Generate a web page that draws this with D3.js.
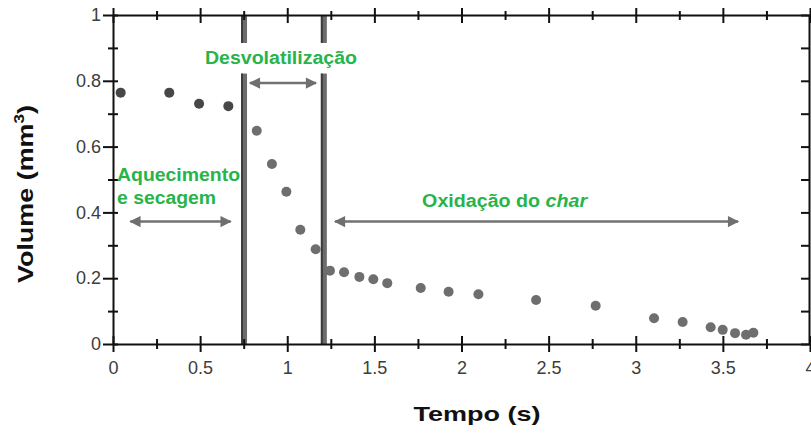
<!DOCTYPE html>
<html>
<head>
<meta charset="utf-8">
<script src="https://cdn.jsdelivr.net/npm/d3@7"></script>
<style>
  body { margin: 0; background: #fff; }
  svg { display: block; font-family: "Liberation Sans", Arial, sans-serif; }
</style>
</head>
<body>
<div id="chart"></div>
<script>
// volume of the particle over time
const tempo = [0.044, 0.323, 0.494, 0.662, 0.825, 0.912, 0.995, 1.075, 1.163, 1.245, 1.326,
  1.414, 1.494, 1.574, 1.766, 1.926, 2.097, 2.428, 2.770, 3.105, 3.269, 3.430, 3.499, 3.570,
  3.633, 3.675];
const volume = [0.764, 0.764, 0.730, 0.723, 0.648, 0.547, 0.463, 0.347, 0.288, 0.223, 0.218,
  0.204, 0.197, 0.185, 0.170, 0.159, 0.151, 0.134, 0.116, 0.078, 0.067, 0.051, 0.043, 0.033,
  0.028, 0.034];
// first points (drying) are drawn darker
const darkCount = 4;

const xTicks = [0, 0.25, 0.5, 0.75, 1, 1.25, 1.5, 1.75, 2, 2.25, 2.5, 2.75, 3, 3.25, 3.5, 3.75, 4];
const xLabels = ['0', '', '0.5', '', '1', '', '1.5', '', '2', '', '2.5', '', '3', '', '3.5', '', '4'];
const yTicks = [0, 0.1, 0.2, 0.3, 0.4, 0.5, 0.6, 0.7, 0.8, 0.9, 1];
const yLabels = ['0', '', '0.2', '', '0.4', '', '0.6', '', '0.8', '', '1'];

// phase boundaries and arrows
const boundaries = [0.752, 1.21];
const phaseArrows = [
  { x0: 0.10, x1: 0.675, y: 0.372 },
  { x0: 0.786, x1: 1.165, y: 0.793 },
  { x0: 1.274, x1: 3.587, y: 0.372 }
];

const width = 811, height = 434;
const margin = { top: 15, right: 1, bottom: 90, left: 113 };
const green = '#27b44b';

const svg = d3.select('#chart').append('svg')
  .attr('width', width)
  .attr('height', height);

const x = d3.scaleLinear().domain([0, 4]).range([margin.left, width - margin.right]);
const y = d3.scaleLinear().domain([0, 1]).range([height - margin.bottom, margin.top]);

const defs = svg.append('defs');
defs.append('marker')
  .attr('id', 'head')
  .attr('viewBox', '0 0 10 10')
  .attr('refX', 9).attr('refY', 5)
  .attr('markerWidth', 6).attr('markerHeight', 4.5)
  .attr('markerUnits', 'strokeWidth')
  .attr('orient', 'auto-start-reverse')
  .append('path').attr('d', 'M0,0L10,5L0,10z').attr('fill', '#6f6f6f');

// phase boundaries, broken where the label sits
const gap = [0.915, 0.822];
boundaries.forEach(b => {
  [[0, gap[1]], [gap[0], 1]].forEach(([a, c]) => {
    svg.append('rect')
      .attr('x', x(b) - 3).attr('width', 6)
      .attr('y', y(c)).attr('height', y(a) - y(c))
      .attr('fill', '#6c6c6c');
    svg.append('rect')
      .attr('x', x(b) - 3).attr('width', 2)
      .attr('y', y(c)).attr('height', y(a) - y(c))
      .attr('fill', '#3c3c3c');
  });
});

svg.append('g').selectAll('line')
  .data(phaseArrows)
  .join('line')
    .attr('x1', d => x(d.x0)).attr('x2', d => x(d.x1))
    .attr('y1', d => y(d.y)).attr('y2', d => y(d.y))
    .attr('stroke', '#727272')
    .attr('stroke-width', 2.5)
    .attr('marker-start', 'url(#head)')
    .attr('marker-end', 'url(#head)');

// axes
const bottomAxis = svg.append('g')
  .attr('transform', `translate(0,${y(0)})`)
  .call(d3.axisBottom(x).tickValues(xTicks).tickFormat((d, i) => xLabels[i]).tickSizeOuter(0));
bottomAxis.selectAll('.tick line').attr('y1', (d, i) => i % 2 ? -5 : -8).attr('y2', (d, i) => i % 2 ? 5 : 8);
bottomAxis.selectAll('.tick text').attr('y', 17);

const topAxis = svg.append('g')
  .attr('transform', `translate(0,${y(1)})`)
  .call(d3.axisTop(x).tickValues(xTicks).tickFormat('').tickSizeOuter(0));
topAxis.selectAll('.tick line').attr('y1', (d, i) => i % 2 ? -4 : -7).attr('y2', (d, i) => i % 2 ? 5 : 8);

const leftAxis = svg.append('g')
  .attr('transform', `translate(${x(0)},0)`)
  .call(d3.axisLeft(y).tickValues(yTicks).tickFormat((d, i) => yLabels[i]).tickSizeOuter(0));
leftAxis.selectAll('.tick line').attr('x1', (d, i) => i % 2 ? -5 : -10).attr('x2', 5);
leftAxis.selectAll('.tick text').attr('x', -12);

const rightAxis = svg.append('g')
  .attr('transform', `translate(${x(4) - 1},0)`)
  .call(d3.axisRight(y).tickValues(yTicks).tickFormat('').tickSizeOuter(0));
rightAxis.selectAll('.tick line').attr('x1', -8).attr('x2', 0);

svg.selectAll('.domain').attr('stroke', '#111').attr('stroke-width', 2);
svg.selectAll('.tick line').attr('stroke', '#111').attr('stroke-width', 2);
svg.selectAll('.tick text')
  .attr('font-size', 18)
  .attr('fill', '#3d3d3d')
  .attr('font-family', '"Liberation Sans", Arial, sans-serif');

// data points
svg.append('g').selectAll('circle')
  .data(tempo.map((t, i) => ({ t, v: volume[i], i })))
  .join('circle')
    .attr('cx', d => x(d.t))
    .attr('cy', d => y(d.v))
    .attr('r', 5)
    .attr('fill', d => d.i < darkCount ? '#474747' : '#6e6e6e');

// phase labels
const label = (tx, ty, anchor, len) => svg.append('text')
  .attr('x', x(tx)).attr('y', y(ty))
  .attr('text-anchor', anchor)
  .attr('font-size', 18).attr('font-weight', 'bold')
  .attr('fill', green)
  .attr('textLength', len).attr('lengthAdjust', 'spacingAndGlyphs');

label(0.964, 0.851, 'middle', 152).text('Desvolatilização');
label(0.023, 0.495, 'start', 123).text('Aquecimento');
label(0.023, 0.425, 'start', 99).text('e secagem');
const ox = label(1.774, 0.415, 'start', 165);
ox.append('tspan').text('Oxidação do ');
ox.append('tspan').attr('font-style', 'italic').text('char');

// axis titles
svg.append('text')
  .attr('x', 477).attr('y', 421)
  .attr('text-anchor', 'middle')
  .attr('font-size', 21).attr('font-weight', 'bold').attr('fill', '#111')
  .attr('textLength', 127).attr('lengthAdjust', 'spacingAndGlyphs')
  .text('Tempo (s)');

const yt = svg.append('text')
  .attr('transform', 'translate(33,194) rotate(-90)')
  .attr('text-anchor', 'middle')
  .attr('font-size', 22).attr('font-weight', 'bold').attr('fill', '#111')
  .attr('textLength', 178).attr('lengthAdjust', 'spacingAndGlyphs');
yt.append('tspan').text('Volume (mm');
yt.append('tspan').attr('dy', -9).attr('font-size', 14).text('3');
yt.append('tspan').attr('dy', 9).text(')');
</script>
</body>
</html>
